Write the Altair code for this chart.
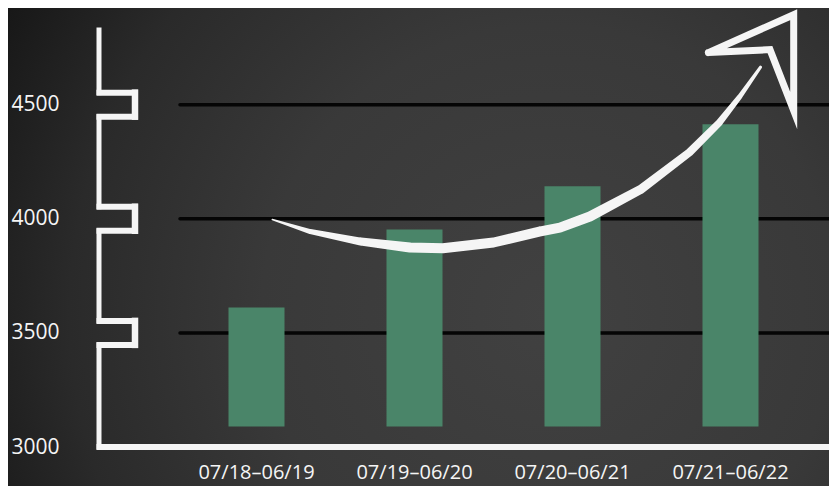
import altair as alt
import pandas as pd

# ---- data ----
periods = ["07/18–06/19", "07/19–06/20", "07/20–06/21", "07/21–06/22"]
values = [3611, 3953, 4142, 4414]
bar_base = 3090
y_ticks = [3000, 3500, 4000, 4500]
grid_ticks = [3500, 4000, 4500]
y_min = 3000
y_top = 4827

# hand-drawn arrow: x in category-index units (0 = first bar centre), y in value units
arrow_x = [0.10, 0.34, 0.66, 0.97, 1.18, 1.50, 1.79, 1.92, 2.11, 2.43, 2.74, 2.93, 3.06, 3.19]
arrow_y = [3997, 3944, 3900, 3874, 3871, 3896, 3944, 3961, 4010, 4128, 4291, 4422, 4536, 4664]
arrow_w = [1.5, 5, 8, 10, 10, 10, 10, 10, 10, 9, 8, 7, 5, 3]
head_x = [2.86, 3.40, 3.40, 3.25, 2.86]
head_y = [4728, 4894, 4474, 4741, 4728]

# ---- layout ----
W, H = 730, 417
PAD = {"left": 91, "top": 22, "right": 0, "bottom": 39}
px_per_unit = H / (y_top - y_min)
gap = 12 / px_per_unit          # half-height of axis notches, in value units

yscale = alt.Scale(domain=[y_min, y_top], nice=False, zero=False)
step = 158
band = 56
x0 = 157.5 - band / 2
xband = alt.Scale(range=[x0, x0 + step * (len(periods) - (1 - band / step))],
                  paddingInner=1 - band / step, paddingOuter=0)
xq = alt.Scale(domain=[-157.5 / step, (W - 157.5) / step], nice=False, zero=False)

bars_df = pd.DataFrame({"period": periods, "value": values, "base": [bar_base] * len(values)})
grid_df = pd.DataFrame({"t": grid_ticks})
seg_df = pd.DataFrame({"lo": [y_min] + [t + gap for t in grid_ticks],
                       "hi": [t - gap for t in grid_ticks] + [y_top]})
notch_ticks = pd.DataFrame({"t": grid_ticks})
notch_ticks["top"] = notch_ticks["t"] + gap
notch_ticks["bot"] = notch_ticks["t"] - gap
base_df = pd.DataFrame({"t": [y_min]})
arrow_df = pd.DataFrame({"ax": arrow_x, "ay": arrow_y, "aw": arrow_w, "o": list(range(len(arrow_x)))})
head_df = pd.DataFrame({"ax": head_x, "ay": head_y, "o": list(range(len(head_x)))})

WHITE = "#f5f5f5"

gradient = {
    "gradient": "radial",
    "x1": 0.66, "y1": 0.58, "r1": 0,
    "x2": 0.66, "y2": 0.58, "r2": 0.78,
    "stops": [
        {"offset": 0, "color": "#414141"},
        {"offset": 0.45, "color": "#393939"},
        {"offset": 0.75, "color": "#2a2a2a"},
        {"offset": 1, "color": "#151515"},
    ],
}

bg = alt.Chart(pd.DataFrame({"k": [0]})).mark_rect(fill=gradient).encode(
    x=alt.value(-PAD["left"]), x2=alt.value(W),
    y=alt.value(-PAD["top"]), y2=alt.value(H + PAD["bottom"]),
)

grid = alt.Chart(grid_df).mark_rule(color="#050505", strokeWidth=3.5, strokeCap="round").encode(
    y=alt.Y("t:Q", scale=yscale, title=None),
    x=alt.value(81), x2=alt.value(W),
)

bars = alt.Chart(bars_df).mark_bar(color="#4a8569").encode(
    x=alt.X("period:N", sort=periods, scale=xband, title=None,
            axis=alt.Axis(labelAngle=0, labelPadding=15, labelFontSize=20,
                          labelFont="Open Sans", labelColor=WHITE, domain=False,
                          ticks=False, tickSize=0, grid=False, zindex=2)),
    y=alt.Y("value:Q", scale=yscale, title=None,
            axis=alt.Axis(values=y_ticks, format="d", labelPadding=40, tickSize=0,
                          labelFontSize=21, labelFont="Open Sans", labelColor=WHITE,
                          domain=False, ticks=False, grid=False, zindex=2)),
    y2="base:Q",
)

vline = alt.Chart(seg_df).mark_rule(color=WHITE, strokeWidth=5, strokeCap="square").encode(
    x=alt.value(0), y=alt.Y("lo:Q", scale=yscale, title=None), y2="hi:Q",
)
notch_top = alt.Chart(notch_ticks).mark_rule(color=WHITE, strokeWidth=6).encode(
    y=alt.Y("top:Q", scale=yscale, title=None), x=alt.value(-2.5), x2=alt.value(39),
)
notch_bot = alt.Chart(notch_ticks).mark_rule(color=WHITE, strokeWidth=6).encode(
    y=alt.Y("bot:Q", scale=yscale, title=None), x=alt.value(-2.5), x2=alt.value(39),
)
notch_side = alt.Chart(notch_ticks).mark_rule(color=WHITE, strokeWidth=6.5, strokeCap="square").encode(
    y=alt.Y("bot:Q", scale=yscale, title=None), y2="top:Q", x=alt.value(36),
)
hline = alt.Chart(base_df).mark_rule(color=WHITE, strokeWidth=6).encode(
    y=alt.Y("t:Q", scale=yscale, title=None), x=alt.value(-2.5), x2=alt.value(W),
)

trail = alt.Chart(arrow_df).mark_trail(color=WHITE).encode(
    x=alt.X("ax:Q", scale=xq, axis=None),
    y=alt.Y("ay:Q", scale=yscale, title=None),
    size=alt.Size("aw:Q", scale=None, legend=None),
    order="o:O",
)
head = alt.Chart(head_df).mark_line(color=WHITE, strokeWidth=7, strokeJoin="miter",
                                    strokeMiterLimit=20, strokeCap="round").encode(
    x=alt.X("ax:Q", scale=xq, axis=None),
    y=alt.Y("ay:Q", scale=yscale, title=None),
    order="o:O",
)

chart = alt.layer(
    bg, grid, bars, vline, notch_top, notch_bot, notch_side, hline, trail, head
).resolve_scale(x="independent").properties(
    width=W, height=H, padding=PAD, autosize="none", background="#1b1b1b",
).configure_view(stroke=None).configure_axis(grid=False, domain=False, ticks=False, zindex=2)

chart.save("out.html", embed_options={"renderer": "svg", "actions": False})
